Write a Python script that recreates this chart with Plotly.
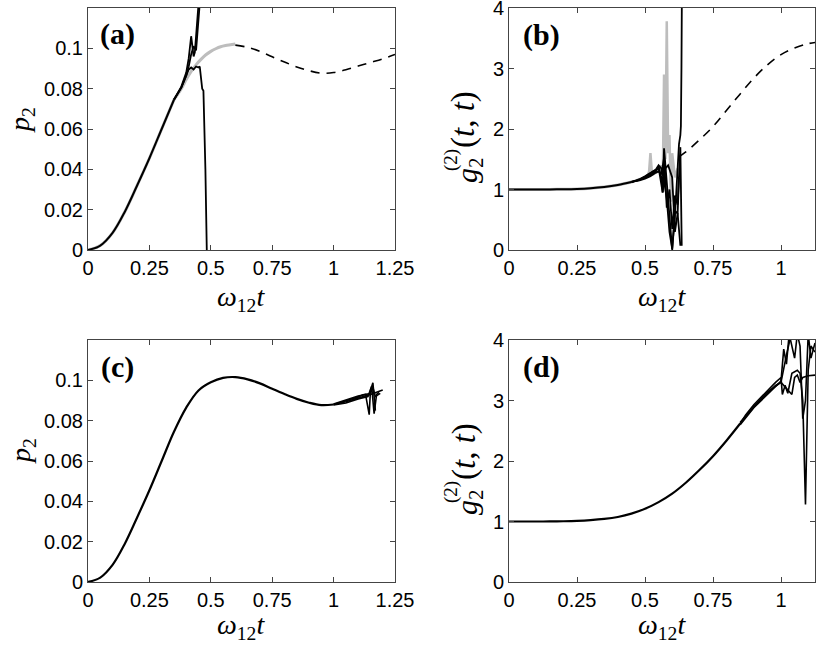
import plotly.graph_objects as go

# reference curve p2(t) (a) dashed and (c)
T_P = [0, 0.05, 0.1, 0.15, 0.2, 0.25, 0.3, 0.35, 0.4, 0.45, 0.5, 0.55, 0.6,
       0.65, 0.7, 0.75, 0.8, 0.85, 0.9, 0.95, 1.0, 1.05, 1.1, 1.15, 1.2, 1.25]
P_BASE = [0, 0.0022, 0.0085, 0.019, 0.032, 0.0455, 0.060, 0.0745, 0.0865, 0.0950,
          0.0990, 0.1012, 0.1016, 0.1005, 0.0985, 0.0958, 0.0932, 0.0908, 0.0889,
          0.0877, 0.0880, 0.0894, 0.0912, 0.0930, 0.0948, 0.0970]

# panel (a) tails
A_GRAY_T = [0.35, 0.38, 0.40, 0.42, 0.44, 0.46, 0.48, 0.50, 0.52, 0.54, 0.56, 0.58, 0.60]
A_GRAY_P = [0.0745, 0.080, 0.0845, 0.0885, 0.0918, 0.0945, 0.0968, 0.0985, 0.0998,
            0.1008, 0.1014, 0.1018, 0.1022]
A1_T = [0.35, 0.38, 0.40, 0.41, 0.42, 0.43, 0.44, 0.445, 0.45, 0.455, 0.46]
A1_P = [0.0745, 0.0805, 0.0865, 0.091, 0.097, 0.101, 0.099, 0.106, 0.114, 0.122, 0.13]
A2_T = [0.35, 0.38, 0.40, 0.41, 0.42, 0.425, 0.43, 0.435, 0.44, 0.445, 0.45, 0.455]
A2_P = [0.0745, 0.081, 0.088, 0.095, 0.106, 0.101, 0.096, 0.098, 0.105, 0.112, 0.118, 0.13]
A3_T = [0.35, 0.38, 0.40, 0.41, 0.42, 0.43, 0.44, 0.45, 0.455, 0.46, 0.465, 0.47, 0.478, 0.485]
A3_P = [0.0745, 0.0805, 0.0865, 0.0895, 0.0905, 0.0895, 0.091, 0.0905, 0.091, 0.086,
        0.080, 0.079, 0.040, -0.01]

# panel (c) tails
C1_T = [1.0, 1.05, 1.1, 1.15, 1.2]
C1_P = [0.0880, 0.0894, 0.0912, 0.0930, 0.0952]
C2_T = [1.0, 1.05, 1.1, 1.13, 1.145, 1.15, 1.16, 1.17]
C2_P = [0.0882, 0.0902, 0.0922, 0.0930, 0.0830, 0.0950, 0.0988, 0.0850]
C3_T = [1.0, 1.05, 1.1, 1.14, 1.155, 1.165, 1.175, 1.185]
C3_P = [0.0878, 0.0888, 0.0908, 0.0920, 0.0970, 0.0835, 0.0930, 0.0940]
C4_T = [1.0, 1.05, 1.1, 1.12, 1.15, 1.16, 1.17, 1.19]
C4_P = [0.0880, 0.0897, 0.0917, 0.0928, 0.0935, 0.0965, 0.0920, 0.0935]

# reference curve g2(t,t), panel (b) dashed
T_G = [0, 0.05, 0.1, 0.15, 0.2, 0.25, 0.3, 0.35, 0.4, 0.45, 0.5, 0.55, 0.6, 0.65,
       0.7, 0.75, 0.8, 0.85, 0.9, 0.95, 1.0, 1.05, 1.1, 1.125]
G_BASE = [1.0, 1.0, 1.0, 1.001, 1.004, 1.01, 1.022, 1.042, 1.075, 1.125, 1.2, 1.31,
          1.45, 1.62, 1.82, 2.04, 2.31, 2.58, 2.84, 3.06, 3.23, 3.34, 3.41, 3.43]
B_DASH_T0, B_DASH_G0 = 0.625, 1.54

# panel (b) tails
B_GRAY_T = [0.45, 0.5, 0.51, 0.515, 0.52, 0.525, 0.53, 0.55, 0.56, 0.565, 0.57, 0.575,
            0.58, 0.585, 0.59, 0.595, 0.6, 0.61, 0.62]
B_GRAY_P = [1.12, 1.2, 1.22, 1.3, 1.6, 1.3, 1.25, 1.3, 1.4, 1.0, 2.9, 1.5, 3.78, 1.6,
            1.9, 0.8, 1.6, 1.2, 1.35]
B1_T = [0.45, 0.48, 0.5, 0.52, 0.54, 0.55, 0.56, 0.565, 0.57, 0.58, 0.59, 0.60, 0.61, 0.62, 0.63]
B1_P = [1.125, 1.16, 1.2, 1.24, 1.3, 1.38, 1.2, 0.95, 1.68, 1.1, 0.5, 0.0, 0.65, 0.6, 0.07]
B2_T = [0.45, 0.48, 0.5, 0.52, 0.54, 0.55, 0.56, 0.57, 0.58, 0.59, 0.6, 0.61, 0.62,
        0.625, 0.63, 0.632, 0.634, 0.636]
B2_P = [1.12, 1.17, 1.22, 1.27, 1.33, 1.4, 1.35, 1.15, 0.85, 0.3, 0.02, 0.55, 1.25,
        1.75, 1.9, 2.05, 3.0, 4.5]
B3_T = [0.45, 0.48, 0.5, 0.52, 0.54, 0.55, 0.56, 0.57, 0.58, 0.59, 0.6, 0.61, 0.62,
        0.625, 0.63, 0.635]
B3_P = [1.13, 1.15, 1.18, 1.22, 1.28, 1.3, 1.25, 1.52, 0.7, 1.0, 0.35, 0.9, 0.75, 1.3, 1.7, 0.07]
B4_T = [0.45, 0.48, 0.5, 0.52, 0.54, 0.55, 0.565, 0.575, 0.585, 0.6, 0.61, 0.62, 0.625]
B4_P = [1.12, 1.16, 1.21, 1.26, 1.32, 1.36, 0.95, 1.35, 1.4, 1.2, 0.3, 0.6, 1.2]

# panel (d)
T_D = [0, 0.05, 0.1, 0.15, 0.2, 0.25, 0.3, 0.35, 0.4, 0.45, 0.5, 0.55, 0.6, 0.65,
       0.7, 0.75, 0.8, 0.85]
D_BASE = [1.0, 1.0, 1.0, 1.001, 1.004, 1.01, 1.022, 1.042, 1.075, 1.13, 1.21, 1.32,
          1.46, 1.64, 1.85, 2.08, 2.34, 2.62]
D1_T = [0.85, 0.9, 0.95, 0.98, 1.0, 1.01, 1.02, 1.03, 1.04]
D1_P = [2.62, 2.9, 3.12, 3.25, 3.3, 3.55, 3.75, 3.95, 4.2]
D2_T = [0.85, 0.87, 0.9, 0.95, 0.98, 1.0, 1.005, 1.015, 1.025, 1.04, 1.06, 1.07,
        1.08, 1.09, 1.1, 1.11, 1.125]
D2_P = [2.62, 2.76, 2.93, 3.17, 3.3, 3.38, 3.1, 3.25, 3.12, 3.45, 3.5, 3.45, 3.0,
        1.28, 3.5, 3.9, 3.8]
D3_T = [0.85, 0.9, 0.95, 1.0, 1.01, 1.02, 1.03, 1.05, 1.06, 1.07, 1.08, 1.09, 1.1, 1.11, 1.125]
D3_P = [2.6, 2.88, 3.1, 3.32, 3.85, 3.6, 4.1, 3.7, 4.1, 3.9, 2.7, 3.0, 4.1, 3.7, 3.95]
D4_T = [0.85, 0.87, 0.9, 0.95, 1.0, 1.02, 1.04, 1.05, 1.06, 1.07, 1.08, 1.1, 1.125]
D4_P = [2.64, 2.74, 2.9, 3.14, 3.3, 3.2, 3.1, 3.38, 3.42, 3.3, 3.38, 3.41, 3.42]

X_TICKS = [0, 0.25, 0.5, 0.75, 1, 1.25]
X_TEXT = ["0", "0.25", "0.5", "0.75", "1", "1.25"]
P_TICKS = [0, 0.02, 0.04, 0.06, 0.08, 0.1]
P_TEXT = ["0", "0.02", "0.04", "0.06", "0.08", "0.1"]
G_TICKS = [0, 1, 2, 3, 4]

BLACK = "#000000"
GRAY = "#bdbdbd"

W, H = 817, 648


def line(x, y, ax, color=BLACK, width=2, dash=None, smooth=False):
    return go.Scatter(x=x, y=y, xaxis="x" + ax, yaxis="y" + ax, mode="lines",
                      line=dict(color=color, width=width, dash=dash,
                                shape="spline" if smooth else "linear"),
                      showlegend=False, hoverinfo="skip")


def px(x, y):
    # window pixel -> paper coordinates
    return x / W, 1 - y / H


fig = go.Figure()

# (a)
fig.add_trace(line(T_P[:8], P_BASE[:8], "", GRAY, 3, smooth=True))
fig.add_trace(line(A_GRAY_T, A_GRAY_P, "", GRAY, 3, smooth=True))
fig.add_trace(line(T_P[:8], P_BASE[:8], "", smooth=True))
for t, p in [(A1_T, A1_P), (A2_T, A2_P), (A3_T, A3_P)]:
    fig.add_trace(line(t, p, "", width=1.8))
fig.add_trace(line(T_P[12:], P_BASE[12:], "", width=1.6, dash="9px,7px", smooth=True))

# (b)
fig.add_trace(line(T_G[:10], G_BASE[:10], "2", GRAY, 3, smooth=True))
fig.add_trace(line(B_GRAY_T, B_GRAY_P, "2", GRAY, 2.5))
fig.add_trace(line(T_G[:10], G_BASE[:10], "2", smooth=True))
for t, p in [(B1_T, B1_P), (B2_T, B2_P), (B3_T, B3_P), (B4_T, B4_P)]:
    fig.add_trace(line(t, p, "2", width=1.8))
fig.add_trace(line([B_DASH_T0] + T_G[13:], [B_DASH_G0] + G_BASE[13:], "2",
                   width=1.6, dash="9px,7px", smooth=True))

# (c)
fig.add_trace(line(T_P[:21], P_BASE[:21], "3", width=2.2, smooth=True))
for t, p in [(C1_T, C1_P), (C2_T, C2_P), (C3_T, C3_P), (C4_T, C4_P)]:
    fig.add_trace(line(t, p, "3", width=1.6))

# (d)
fig.add_trace(line(T_D, D_BASE, "4", width=2.2, smooth=True))
for t, p in [(D1_T, D1_P), (D2_T, D2_P), (D3_T, D3_P), (D4_T, D4_P)]:
    fig.add_trace(line(t, p, "4", width=1.6))

# plot areas in window pixels: left, right, top, bottom
boxes = {
    "": (88, 395, 8, 250),
    "2": (509, 815, 8, 250),
    "3": (88, 395, 340, 582),
    "4": (509, 815, 340, 582),
}

tick_font = dict(family="Liberation Sans, Arial, sans-serif", size=20, color="black")
axis_style = dict(showline=True, linecolor="#444", linewidth=1, mirror="ticks",
                  ticks="inside", ticklen=5, tickcolor="#444", showgrid=False,
                  zeroline=False, tickfont=tick_font, automargin=False,
                  ticklabeloverflow="allow")

layout = {}
for ax, (l, r, t, b) in boxes.items():
    x0, y1 = px(l, t)
    x1, y0 = px(r, b)
    xr = [0, 1.25] if ax in ("", "3") else [0, 1.125]
    layout["xaxis" + ax] = dict(domain=[x0, x1], range=xr, anchor="y" + ax,
                                tickvals=X_TICKS, ticktext=X_TEXT, **axis_style)
    if ax in ("", "3"):
        yextra = dict(range=[0, 0.12], tickvals=P_TICKS, ticktext=P_TEXT)
    else:
        yextra = dict(range=[0, 4], tickvals=G_TICKS)
    layout["yaxis" + ax] = dict(domain=[y0, y1], anchor="x" + ax, **yextra, **axis_style)

fig.update_layout(width=W, height=H, margin=dict(l=0, r=0, t=0, b=0),
                  paper_bgcolor="white", plot_bgcolor="white", **layout)

serif = "Liberation Serif, Times New Roman, serif"
omega = "<i>ω</i><sub>12</sub><i>t</i>"
p2 = "<i>p</i><sub>2</sub>"


def text(x, y, s, size=28, ang=0):
    ax_, ay_ = px(x, y)
    fig.add_annotation(x=ax_, y=ay_, xref="paper", yref="paper", text=s,
                       showarrow=False, textangle=ang,
                       font=dict(family=serif, size=size, color="black"),
                       xanchor="center", yanchor="middle")


# x titles
for x, y in [(241, 298), (662, 298), (241, 626), (662, 626)]:
    text(x, y, omega)
# p2 titles
for y in [120, 451]:
    text(22, y, p2, 28, -90)
# g2 titles, superscript stacked over the subscript
for dy in [0, 332]:
    text(469, 170 + dy, "<i>g</i><sub>2</sub>", 30, -90)
    text(451, 160 + dy, "(2)", 19, -90)
    text(464, 120 + dy, "(<i>t</i>, <i>t</i>)", 33, -90)

for x, y, s in [(117, 34, "<b>(a)</b>"), (541, 35, "<b>(b)</b>"),
                (117, 367, "<b>(c)</b>"), (541, 367, "<b>(d)</b>")]:
    text(x, y, s, 30)

fig.write_html("out.html", config={"displayModeBar": False},
               post_script="document.body.style.margin='0';")
